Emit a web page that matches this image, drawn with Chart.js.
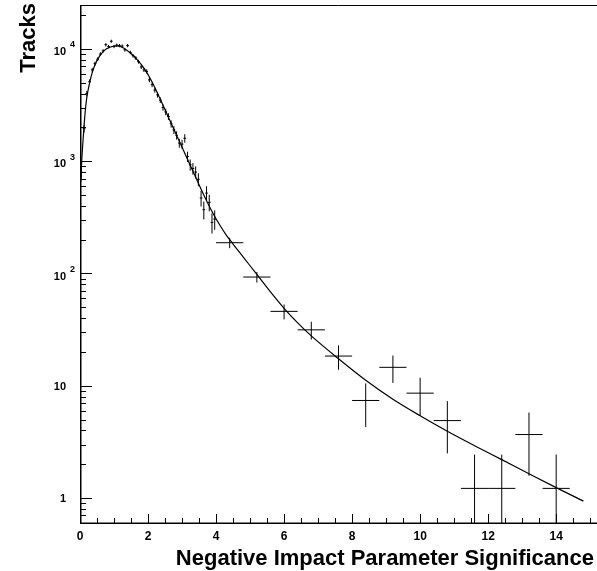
<!DOCTYPE html>
<html><head><meta charset="utf-8">
<script src="https://cdn.jsdelivr.net/npm/chart.js@4"></script>
<style>html,body{margin:0;padding:0;background:#fff}#w{width:597px;height:571px;position:relative}</style>
</head><body><div id="w"><canvas id="c"></canvas></div>
<script>
// Histogram bin centres (variable binning: 0.08 wide below 4, 0.8 wide above)
const binX = [0.04,0.12,0.20,0.28,0.36,0.44,0.52,0.60,0.68,0.76,0.84,0.92,1.00,1.08,1.16,1.24,1.32,1.40,1.48,1.56,
  1.64,1.72,1.80,1.88,1.96,2.04,2.12,2.20,2.28,2.36,2.44,2.52,2.60,2.68,2.76,2.84,2.92,3.00,3.08,3.16,
  3.24,3.32,3.40,3.48,3.56,3.64,3.72,3.80,3.88,3.96,
  4.4,5.2,6.0,6.8,7.6,8.4,9.2,10.0,10.8,11.6,12.4,13.2,14.0];
const binXErr = [0.04,0.04,0.04,0.04,0.04,0.04,0.04,0.04,0.04,0.04,0.04,0.04,0.04,0.04,0.04,0.04,0.04,0.04,0.04,0.04,
  0.04,0.04,0.04,0.04,0.04,0.04,0.04,0.04,0.04,0.04,0.04,0.04,0.04,0.04,0.04,0.04,0.04,0.04,0.04,0.04,
  0.04,0.04,0.04,0.04,0.04,0.04,0.04,0.04,0.04,0.04,
  0.4,0.4,0.4,0.4,0.4,0.4,0.4,0.4,0.4,0.4,0.4,0.4,0.4];
const binY = [800,1950,4000,5100,6500,7400,8100,9000,9600,10900,10500,11700,10500,10800,10700,10600,9800,10700,9300,8700,
  8300,7700,6900,6500,6300,5300,4800,4300,3900,3500,3000,2750,2500,2150,1900,1700,1450,1420,1600,1100,
  930,860,800,690,470,370,520,430,285,305,
  188,93,46,31.5,18.4,7.4,14.6,8.6,4.9,1.22,1.22,3.68,1.22];
const binYErr = [98,153,219,247,279,298,312,329,339,362,355,375,355,360,358,357,343,358,334,323,
  316,304,288,279,275,252,240,227,216,205,190,182,173,161,151,143,132,131,139,115,
  106,102,98,91,75,67,79,72,58,60,
  20,10,7,5.7,4.5,3.1,4.0,3.2,2.4,1.22,1.22,2.1,1.22];
// Fit curve samples
const fitX = [0.02,0.05,0.1,0.15,0.2,0.27,0.37,0.5,0.7,0.9,1.1,1.3,1.5,1.7,1.9,2.1,2.3,2.5,2.7,2.9,
  3.1,3.3,3.5,3.7,3.9,4.1,4.3,4.5,4.8,5.2,5.6,6.0,6.4,6.8,7.6,8.4,9.2,10.0,10.8,11.6,12.4,13.2,14.0,14.8];
const fitY = [650,1000,1700,2700,3700,4770,6300,7900,9600,10400,10650,10100,9100,7900,6600,5200,3900,2870,2110,1553,
  1142,840,618,459,348,273,220,183,140,98,68.5,48.9,36.3,27.8,17.4,11.2,7.59,5.41,3.94,2.93,2.20,1.65,1.24,0.94];
// Axis ticks / labels
const xTickLabels = [0,2,4,6,8,10,12,14];
const yDecades = [1,10,100,1000,10000];
const yDecadeExp = [0,1,2,3,4];
const xTitle = 'Negative Impact Parameter Significance';
const yTitle = 'Tracks';

const FONT = "'Liberation Sans', Arial, Helvetica, sans-serif";

const errBars = { id:'errBars', afterDatasetsDraw(chart){
  const {ctx, chartArea:a, scales:{x,y}} = chart;
  ctx.save(); ctx.strokeStyle='#000'; ctx.lineWidth=1;
  ctx.beginPath();
  binX.forEach((xc,i)=>{
    const v=binY[i], e=binYErr[i], hw=binXErr[i];
    const px=x.getPixelForValue(xc), py=y.getPixelForValue(v);
    const pl=x.getPixelForValue(xc-hw), pr=x.getPixelForValue(xc+hw);
    const pt=y.getPixelForValue(v+e);
    const pb= (v-e)>0.0001 ? y.getPixelForValue(v-e) : a.bottom;
    ctx.moveTo(pl,py); ctx.lineTo(pr,py);
    ctx.moveTo(px,pt); ctx.lineTo(px,pb);
  });
  ctx.stroke(); ctx.restore();
}};

const frame = { id:'frame', afterDraw(chart){
  const {ctx, chartArea:a, scales:{x,y}} = chart;
  ctx.save(); ctx.strokeStyle='#000';
  ctx.lineWidth=1; ctx.beginPath();
  ctx.moveTo(a.left, a.top+0.5); ctx.lineTo(a.right, a.top+0.5); ctx.stroke();
  ctx.lineWidth=1.5; ctx.beginPath();
  ctx.moveTo(a.left+0.75, a.top); ctx.lineTo(a.left+0.75, a.bottom+0.5);
  ctx.moveTo(a.left, a.bottom+0.25); ctx.lineTo(a.right, a.bottom+0.25);
  ctx.stroke();
  ctx.lineWidth=1; ctx.beginPath();
  for (let k=0; k<=30; k++){
    const t=k*0.5; if (t> x.max) break;
    const px=Math.round(x.getPixelForValue(t))+0.5;
    const len = (k%4===0) ? 9 : 5;
    ctx.moveTo(px, a.bottom); ctx.lineTo(px, a.bottom-len);
  }
  for (let e=-1; e<=4; e++){
    for (let j=1; j<=9; j++){
      const v=j*Math.pow(10,e);
      if (v<y.min || v>y.max) continue;
      const py=Math.round(y.getPixelForValue(v))+0.5;
      const len = (j===1) ? 12 : 6;
      ctx.moveTo(a.left, py); ctx.lineTo(a.left+len, py);
    }
  }
  ctx.stroke();
  ctx.fillStyle='#000'; ctx.textBaseline='middle';
  yDecades.forEach((v,i)=>{
    const py=y.getPixelForValue(v); const ex=yDecadeExp[i];
    ctx.textAlign='right';
    ctx.font='bold 11px '+FONT;
    if (ex<=1){ ctx.fillText(String(v), 66, py+1); }
    else {
      ctx.fillText('10', 66, py+3);
      ctx.textAlign='left'; ctx.font='bold 9px '+FONT;
      ctx.fillText(String(ex), 70, py-4);
    }
  });
  ctx.font='bold 22px '+FONT; ctx.textAlign='right'; ctx.textBaseline='alphabetic';
  ctx.fillText(xTitle, 594, 565);
  ctx.save(); ctx.translate(35, 3); ctx.rotate(-Math.PI/2);
  ctx.font='bold 22px '+FONT; ctx.textAlign='right';
  ctx.fillText(yTitle, 0, 0);
  ctx.restore();
  ctx.restore();
}};

new Chart(document.getElementById('c'), {
  type:'scatter',
  data:{ datasets:[
    { data: binX.map((x,i)=>({x, y: binY[i]})), pointRadius:0, showLine:false, borderColor:'#000', backgroundColor:'#000' },
    { type:'line', data: fitX.map((x,i)=>({x, y: fitY[i]})), borderColor:'#000', borderWidth:1.2, pointRadius:0,
      cubicInterpolationMode:'monotone', fill:false }
  ]},
  options:{
    responsive:true, maintainAspectRatio:false, animation:false, devicePixelRatio:1,
    layout:{ padding:{ top:5, right:0, left:0, bottom:0 } },
    plugins:{ legend:{display:false}, tooltip:{enabled:false} },
    scales:{
      x:{ type:'linear', min:0, max:15.2, afterFit(s){ s.height=48; },
        afterBuildTicks(s){ s.ticks = xTickLabels.map(v=>({value:v})); },
        grid:{display:false, drawTicks:false}, border:{display:false},
        ticks:{ autoSkip:false, maxRotation:0, padding:6, color:'#000',
          font:{family:FONT, weight:'bold', size:12},
          callback:(v)=> String(v) } },
      y:{ type:'logarithmic', min:0.615, max:24600, afterFit(s){ s.width=80; },
        grid:{display:false, drawTicks:false}, border:{display:false},
        ticks:{ display:false } }
    }
  },
  plugins:[errBars, frame]
});
</script>
</body></html>
